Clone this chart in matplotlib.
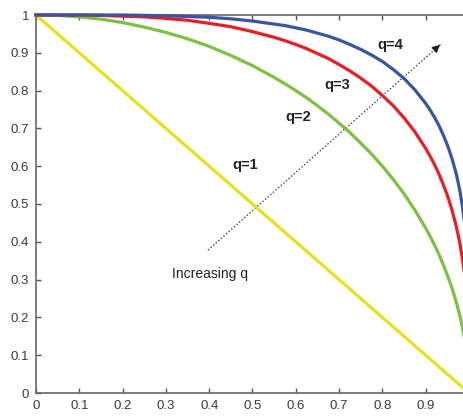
import numpy as np
import matplotlib
matplotlib.use("Agg")
import matplotlib.pyplot as plt

# values
x_q1 = [0, 1.0]
y_q1 = [1, 0]

x = [0, 0.05, 0.1, 0.15, 0.2, 0.25, 0.3, 0.35, 0.4, 0.45, 0.5, 0.55,
     0.575, 0.6, 0.625, 0.65, 0.675, 0.7, 0.725, 0.75, 0.775, 0.8, 0.825,
     0.85, 0.875, 0.9, 0.91, 0.92, 0.93, 0.94, 0.95, 0.96, 0.97, 0.975,
     0.98, 0.985, 0.99, 0.995, 1.0]
y_q2 = [1, 0.999, 0.995, 0.989, 0.980, 0.968, 0.954, 0.937, 0.917, 0.893,
        0.866, 0.835, 0.818, 0.800, 0.781, 0.760, 0.738, 0.714, 0.689, 0.661,
        0.632, 0.600, 0.565, 0.527, 0.484, 0.436, 0.415, 0.392, 0.368, 0.341,
        0.312, 0.280, 0.243, 0.222, 0.199, 0.173, 0.141, 0.100, 0]
y_q3 = [1, 1.0, 1.0, 0.999, 0.997, 0.995, 0.991, 0.986, 0.978, 0.969,
        0.956, 0.941, 0.932, 0.922, 0.911, 0.898, 0.885, 0.869, 0.852, 0.833,
        0.812, 0.787, 0.760, 0.728, 0.691, 0.647, 0.627, 0.605, 0.581, 0.553,
        0.523, 0.487, 0.444, 0.418, 0.389, 0.354, 0.310, 0.246, 0]
y_q4 = [1, 1.0, 1.0, 1.0, 1.0, 0.999, 0.998, 0.996, 0.994, 0.990,
        0.984, 0.976, 0.972, 0.966, 0.960, 0.952, 0.944, 0.934, 0.922, 0.909,
        0.894, 0.877, 0.856, 0.832, 0.802, 0.766, 0.749, 0.730, 0.709, 0.684,
        0.656, 0.623, 0.582, 0.557, 0.528, 0.492, 0.446, 0.375, 0]

curve_labels = ["q=1", "q=2", "q=3", "q=4"]
colors = ["#e6e21a", "#7cc142", "#ec1c24", "#3a54a4"]
tick_vals = [0, 0.1, 0.2, 0.3, 0.4, 0.5, 0.6, 0.7, 0.8, 0.9, 1.0]
xtick_text = ["0", "0.1", "0.2", "0.3", "0.4", "0.5", "0.6", "0.7", "0.8", "0.9", ""]
ytick_text = ["0", "0.1", "0.2", "0.3", "0.4", "0.5", "0.6", "0.7", "0.8", "0.9", "1"]

plt.rcParams["font.family"] = ["Liberation Sans", "DejaVu Sans"]

fig = plt.figure(figsize=(4.63, 4.16), dpi=100)
ax = fig.add_axes([36 / 463, 23 / 416, 433 / 463, 378 / 416])

curves = [(x_q1, y_q1), (x, y_q2), (x, y_q3), (x, y_q4)]
for (xs, ys), c in zip(curves, colors):
    ax.plot(xs, ys, color=c, lw=2.3, clip_on=False, zorder=3,
            solid_joinstyle="round")

ax.set_xlim(0, 1)
ax.set_ylim(0, 1)
ax.set_xticks(tick_vals)
ax.set_xticklabels(xtick_text)
ax.set_yticks(tick_vals)
ax.set_yticklabels(ytick_text)
ax.tick_params(direction="in", length=3.5, width=1, color="#555555",
               labelsize=9.5, labelcolor="#3a3a3a", pad=5,
               top=True, right=True)
for s in ax.spines.values():
    s.set_color("#666666")
    s.set_linewidth(1.2)

# curve labels
label_pos = [(0.483, 0.603), (0.605, 0.730), (0.695, 0.815), (0.818, 0.921)]
for txt, (lx, ly) in zip(curve_labels, label_pos):
    ax.text(lx, ly, txt, fontsize=10.5, fontweight="bold", color="#222222",
            ha="center", va="center")

# dotted arrow
x0, y0, x1, y1 = 0.397, 0.378, 0.938, 0.926
ax.plot([x0, x1], [y0, y1], ls=(0, (1, 1.5)), color="#444444", lw=1, zorder=2)
ax.annotate("", xy=(x1, y1), xytext=(x1 - 0.02, y1 - 0.0203),
            arrowprops=dict(arrowstyle="-|>", color="#222222", lw=1,
                            mutation_scale=11))
ax.text(0.402, 0.315, "Increasing q", fontsize=10, color="#222222",
        ha="center", va="center")

fig.savefig("out.png", dpi=100)
